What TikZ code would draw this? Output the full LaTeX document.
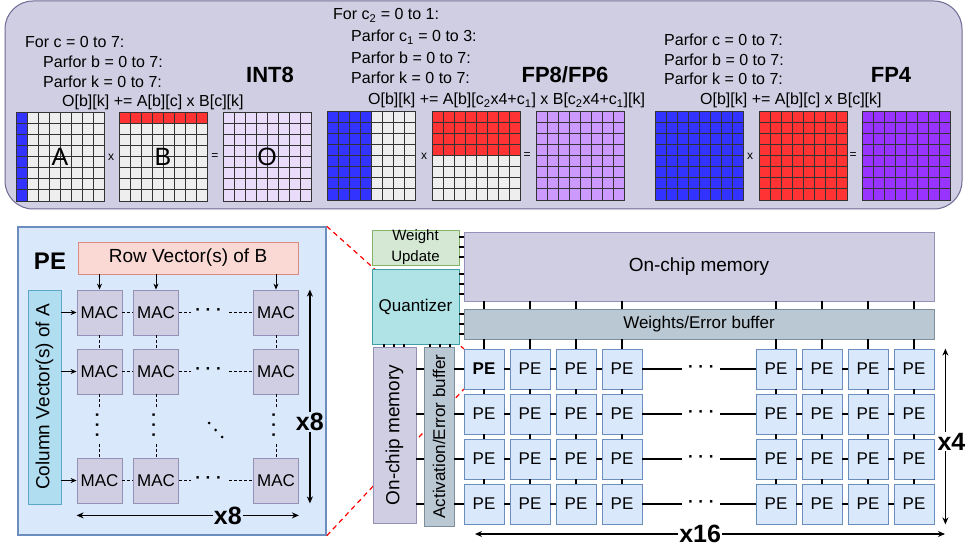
\documentclass[tikz,border=0pt]{standalone}
\usepackage{fontspec}
\setmainfont{Liberation Sans}
\usetikzlibrary{arrows.meta,calc}
\definecolor{topbg}{HTML}{D0CEE2}
\definecolor{topbd}{HTML}{6F6A94}
\definecolor{cgray}{HTML}{EEEEEE}
\definecolor{cblue}{HTML}{3333FF}
\definecolor{cred}{HTML}{FF3333}
\definecolor{cOa}{HTML}{E9DCFB}
\definecolor{cOb}{HTML}{CC99FF}
\definecolor{cOc}{HTML}{9933FF}
\definecolor{gridc}{HTML}{333333}
\definecolor{pebg}{HTML}{DAE8FC}
\definecolor{pebd}{HTML}{6C8EBF}
\definecolor{rowbg}{HTML}{FAD9D5}
\definecolor{rowbd}{HTML}{D98C80}
\definecolor{colbg}{HTML}{B1DDF0}
\definecolor{colbd}{HTML}{5AA7C8}
\definecolor{macbd}{HTML}{9590B8}
\definecolor{wubg}{HTML}{D5E8D4}
\definecolor{wubd}{HTML}{82B366}
\definecolor{qbg}{HTML}{B0E3E6}
\definecolor{qbd}{HTML}{3D9EA6}
\definecolor{bufbg}{HTML}{BAC8D3}
\definecolor{bufbd}{HTML}{7D8E9C}
\newcommand\mxg[1]{%
  \foreach \k in {1,...,7}{%
    \draw[gl] ($(#1.north west)+(\k*11,0)$) -- ++(0,88);
    \draw[gl] ($(#1.north west)+(0,\k*11)$) -- ++(88,0);
  }
  \draw[gl] (#1.north west) rectangle (#1.south east);}
\begin{document}
\begin{tikzpicture}[x=1pt,y=-1pt,
  fs/.style={font=\fontsize{#1}{#1}\selectfont},
  fsb/.style={font=\fontsize{#1}{#1}\selectfont\bfseries},
  code/.style={fs=16, anchor=west, inner sep=0pt, text height=12pt, text depth=3pt},
  mat/.style={minimum size=88pt, inner sep=0pt},
  gl/.style={draw=gridc, line width=0.6pt},
  opsym/.style={fs=12, inner sep=0pt},
  box/.style={draw, inner sep=0pt, align=center, line width=0.8pt},
  mac/.style={box, fill=topbg, draw=macbd, minimum size=45pt, fs=17},
  pe/.style={box, fill=pebg, draw=pebd, minimum size=40pt, fs=17},
  conn/.style={line width=1.2pt, black},
  arr/.style={line width=1pt, -{Stealth[length=6pt,width=5pt]}},
  darr/.style={line width=1.3pt, {Stealth[length=7pt,width=6pt]}-{Stealth[length=7pt,width=6pt]}},
  dsh/.style={line width=0.9pt, dash pattern=on 3pt off 2pt},
  reddash/.style={draw=red, line width=1.2pt, dash pattern=on 5pt off 4pt}
]
\useasboundingbox (0,0) rectangle (972,548);

% ---------- top panel ----------
\node[draw=topbd, fill=topbg, line width=1pt, rounded corners=28pt,
      minimum width=957pt, minimum height=208pt] (toppanel) at (483.5,105) {};

% INT8
\node[code] (t1a) at (25,43) {For c = 0 to 7:};
\node[code] (t1b) at (43,63) {Parfor b = 0 to 7:};
\node[code] (t1c) at (43,83) {Parfor k = 0 to 7:};
\node[code] (t1d) at (62,102) {O[b][k] += A[b][c] x B[c][k]};
\node[fsb=22] (l1) at (270,75) {INT8};
\node[mat, fill=cgray] (a1) at (60,157) {};
\node[mat, fill=cgray] (b1) at (163,157) {};
\node[mat, fill=cOa] (o1) at (267,157) {};
\fill[cblue] (a1.north west) rectangle ++(11,88);
\fill[cred] (b1.north west) rectangle ++(88,11);
\mxg{a1}\mxg{b1}\mxg{o1}
\node[fs=25] (la) at (a1) {A};
\node[fs=25] (lb) at (b1) {B};
\node[fs=25] (lo) at (o1) {O};
\node[opsym] (x1) at (111,157) {x};
\node[opsym] (e1) at (215,157) {=};

% FP8/FP6
\node[code] (t2a) at (333,15) {For c\textsubscript{2} = 0 to 1:};
\node[code] (t2b) at (351,37) {Parfor c\textsubscript{1} = 0 to 3:};
\node[code] (t2c) at (351,59) {Parfor b = 0 to 7:};
\node[code] (t2d) at (351,79) {Parfor k = 0 to 7:};
\node[code] (t2e) at (368,100) {O[b][k] += A[b][c\textsubscript{2}x4+c\textsubscript{1}] x B[c\textsubscript{2}x4+c\textsubscript{1}][k]};
\node[fsb=22] (l2) at (565,75) {FP8/FP6};
\node[mat, fill=cgray] (a2) at (371,156) {};
\node[mat, fill=cgray] (b2) at (476,156) {};
\node[mat, fill=cOb] (o2) at (580,156) {};
\fill[cblue] (a2.north west) rectangle ++(44,88);
\fill[cred] (b2.north west) rectangle ++(88,44);
\mxg{a2}\mxg{b2}\mxg{o2}
\node[opsym] (x2) at (424,156) {x};
\node[opsym] (e2) at (527,156) {=};

% FP4
\node[code] (t3a) at (664,41) {Parfor c = 0 to 7:};
\node[code] (t3b) at (664,61) {Parfor b = 0 to 7:};
\node[code] (t3c) at (664,80) {Parfor k = 0 to 7:};
\node[code] (t3d) at (700,100) {O[b][k] += A[b][c] x B[c][k]};
\node[fsb=22] (l3) at (891,75) {FP4};
\node[mat, fill=cblue] (a3) at (699,156) {};
\node[mat, fill=cred] (b3) at (803,156) {};
\node[mat, fill=cOc] (o3) at (906,156) {};
\mxg{a3}\mxg{b3}\mxg{o3}
\node[opsym] (x3) at (750,156) {x};
\node[opsym] (e3) at (853,156) {=};

% ---------- PE panel ----------
\node[draw=pebd, fill=pebg, line width=1.5pt, minimum width=308pt, minimum height=308pt,
      inner sep=0pt] (pepanel) at (172,381) {};
\node[fsb=24] (pelabel) at (50,261) {PE};
\node[box, fill=rowbg, draw=rowbd, minimum width=220pt, minimum height=32pt, fs=19]
  (rowb) at (188,258) {Row Vector(s) of B};
\node[box, fill=colbg, draw=colbd, minimum width=33pt, minimum height=214pt]
  (cola) at (44.5,397) {};
\node[fs=19, rotate=90] (colatext) at (cola) {Column Vector(s) of A};

\foreach \c/\x in {1/99.5,2/156,3/276}{
  \foreach \r/\y in {1/312.5,2/371.5,3/480.5}{
    \node[mac] (mac\r\c) at (\x,\y) {MAC};
  }
}
\foreach \c in {1,2,3}{
  \draw[arr] (rowb.south -| mac1\c) -- (mac1\c.north);
  \draw[dsh] (mac1\c.south) -- (mac2\c.north);
  \draw[dsh] (mac2\c.south) -- (mac3\c.north);
  \node[fill=pebg, rotate=90, inner sep=0pt, minimum width=34pt, minimum height=5pt, fsb=17]
     (vd\c) at ($(mac2\c.south)!0.48!(mac3\c.north)$) {· · ·};
}
\foreach \r in {1,2,3}{
  \draw[arr] (cola.east |- mac\r1) -- (mac\r1.west);
  \draw[dsh] (mac\r1.east) -- (mac\r2.west);
  \draw[dsh] (mac\r2.east) -- (mac\r3.west);
  \node[fill=pebg, inner sep=0pt, minimum width=36pt, minimum height=5pt, fsb=17]
     (hd\r) at ($(mac\r2.east)!0.4!(mac\r3.west)$) {· · ·};
}
% diagonal dots
\foreach \dx/\dy in {209/423,215.5/430,222/437}{\fill (\dx,\dy) circle (1.5pt);}
\draw[darr] ([xshift=11pt]mac13.north east) -- ([xshift=11pt]mac33.south east)
   node[pos=0.62, fill=pebg, inner sep=1pt, fsb=25] (x8v) {x8};
\draw[darr] ([yshift=-12pt]mac31.south west) -- ([yshift=-12pt]mac33.south east)
   node[pos=0.68, fill=pebg, inner sep=1pt, fsb=25] (x8h) {x8};

% ---------- red zoom lines (behind right-side blocks) ----------
\coordinate (pe11nw) at (464,349);
\coordinate (pe11sw) at (464,389);
\draw[reddash] (pepanel.north east) -- (pe11nw);
\draw[reddash] (pepanel.south east) -- (pe11sw);

% ---------- right side ----------
\node[box, fill=wubg, draw=wubd, minimum width=87pt, minimum height=35pt,
      align=center, font=\fontsize{15}{21}\selectfont] (wu) at (415.5,247.5) {Weight\\Update};
\node[box, fill=qbg, draw=qbd, minimum width=87pt, minimum height=75pt, fs=17]
  (quant) at (415.5,306.5) {Quantizer};
\node[box, fill=topbg, draw=macbd, minimum width=470pt, minimum height=69pt, fs=19]
  (mem) at (699,266.5) {On-chip memory};
\node[box, fill=bufbg, draw=bufbd, minimum width=470pt, minimum height=30pt, fs=17]
  (web) at (699,324) {Weights/Error buffer};
\node[box, fill=topbg, draw=macbd, minimum width=43pt, minimum height=176pt]
  (lmem) at (394.5,435) {};
\node[fs=19, rotate=90] (lmemtext) at (lmem) {On-chip memory};
\node[box, fill=bufbg, draw=bufbd, minimum width=30pt, minimum height=179pt]
  (act) at (439,436.5) {};
\node[fs=17, rotate=90] (acttext) at (act) {Activation/Error buffer};

% ticks between blocks
\foreach \yy in {237,247,257}{\draw[conn] (wu.east |- 0,\yy) -- (mem.west |- 0,\yy);}
\foreach \yy in {274,284,294}{\draw[conn] (quant.east |- 0,\yy) -- (mem.west |- 0,\yy);}
\foreach \yy in {314,324,334}{\draw[conn] (quant.east |- 0,\yy) -- (web.west |- 0,\yy);}
\foreach \xx in {384,394,404}{\draw[conn] (quant.south -| \xx,0) -- (lmem.north -| \xx,0);}
\foreach \xx in {430,440,450}{\draw[conn] (quant.south -| \xx,0) -- (act.north -| \xx,0);}

% PE array
\foreach \c/\x in {1/484,2/530,3/576,4/622,5/776,6/822,7/868,8/914}{
  \foreach \r/\y in {1/369,2/414,3/459,4/504}{
    \node[pe] (pe\r\c) at (\x,\y) {PE};
  }
}
\node[pe, font=\fontsize{17}{17}\selectfont\bfseries] (pe11) at (484,369) {PE};

\foreach \c in {1,...,8}{
  \draw[conn] (mem.south -| pe1\c) -- (web.north -| pe1\c);
  \draw[conn] (web.south -| pe1\c) -- (pe1\c.north);
  \draw[conn] (pe1\c.south) -- (pe2\c.north);
  \draw[conn] (pe2\c.south) -- (pe3\c.north);
  \draw[conn] (pe3\c.south) -- (pe4\c.north);
}
\foreach \r in {1,...,4}{
  \draw[conn] (lmem.east |- pe\r1) -- (act.west |- pe\r1);
  \draw[conn] (act.east |- pe\r1) -- (pe\r1.west);
  \draw[conn] (pe\r1.east) -- (pe\r2.west);
  \draw[conn] (pe\r2.east) -- (pe\r3.west);
  \draw[conn] (pe\r3.east) -- (pe\r4.west);
  \draw[conn] (pe\r4.east) -- (pe\r5.west);
  \draw[conn] (pe\r5.east) -- (pe\r6.west);
  \draw[conn] (pe\r6.east) -- (pe\r7.west);
  \draw[conn] (pe\r7.east) -- (pe\r8.west);
  \node[fill=white, inner sep=0pt, minimum width=38pt, minimum height=5pt, fsb=17]
     (pd\r) at ($(pe\r4.east)!0.52!(pe\r5.west)$) {· · ·};
}
\coordinate (x16l) at (475,534);
\coordinate (x16r) at (945,534);
\draw[darr] (x16l) -- (x16r) node[pos=0.479, fill=white, inner sep=1pt, fsb=25] (x16) {x16};
\draw[darr] ([xshift=11pt]pe18.north east) -- ([xshift=11pt]pe48.south east)
   node[pos=0.53, fill=white, inner sep=1pt, xshift=6pt, fsb=25] (x4) {x4};
\end{tikzpicture}
\end{document}
